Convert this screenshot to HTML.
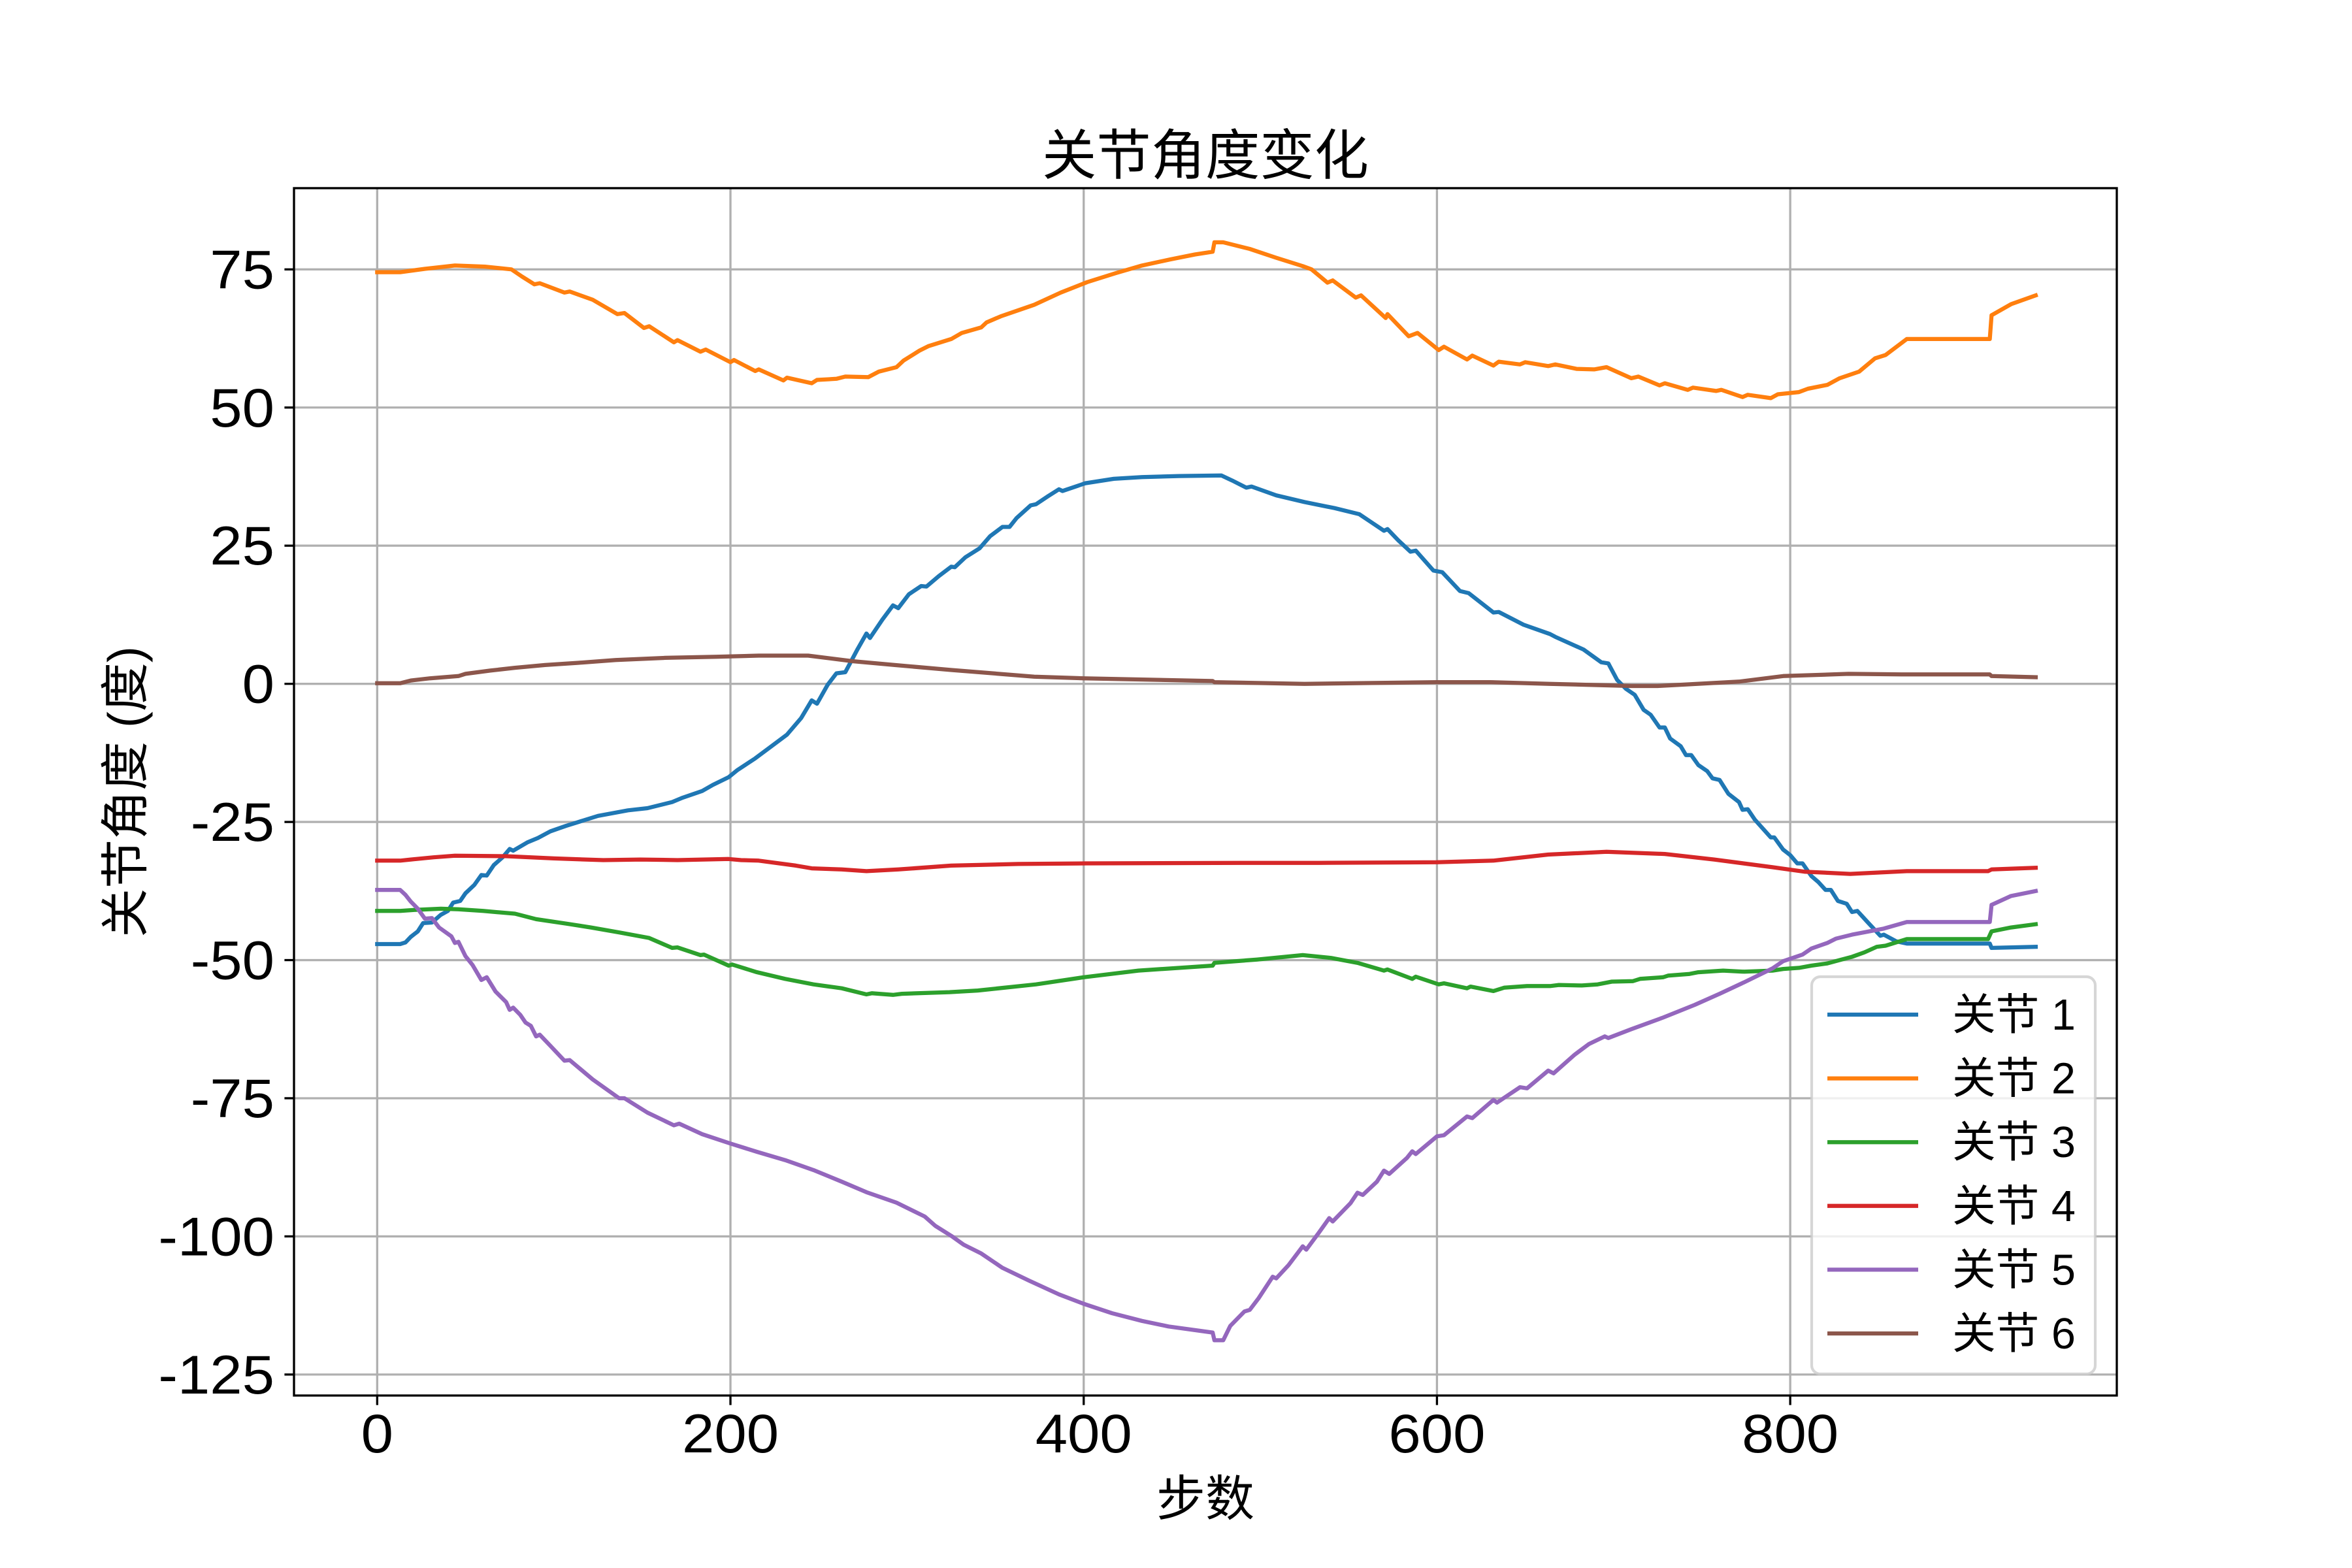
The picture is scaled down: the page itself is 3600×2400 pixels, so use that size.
<!DOCTYPE html>
<html lang="zh">
<head>
<meta charset="utf-8">
<title>关节角度变化</title>
<style>
html,body{margin:0;padding:0;background:#fff;}
svg{display:block;}
text{font-family:"Liberation Sans","WenQuanYi Zen Hei","Noto Sans CJK SC",sans-serif;fill:#000;}
</style>
</head>
<body>
<svg id="chart" xmlns="http://www.w3.org/2000/svg" width="3600" height="2400" viewBox="0 0 3600 2400">
  <rect x="0" y="0" width="3600" height="2400" fill="#fff"/>
  <g id="grid"></g>
  <g id="series"></g>
  <rect x="450" y="288" width="2790" height="1848" fill="none" stroke="#000" stroke-width="3.33"/>
  <g id="ticks"></g>
  <text x="1845" y="267" font-size="83.33" text-anchor="middle">关节角度变化</text>
  <text x="1845" y="2320" font-size="75" text-anchor="middle">步数</text>
  <text x="0" y="0" font-size="75" text-anchor="middle" transform="translate(218 1212) rotate(-90)">关节角度 (度)</text>
  <g id="legend">
    <rect x="2773" y="1495" width="434" height="608" rx="13.3" ry="13.3" fill="#fff" fill-opacity="0.8" stroke="#ccc" stroke-opacity="0.8" stroke-width="4.17"/>
  </g>
</svg>
<script>
var stepsJ1=[0,13,16,19,23,26,31,36,40,43,47,50,55,59,62,66,71,75,77,85,91,98,107,114,125,142,153,167,173,184,190,199,204,214,232,240,246,249,255,260,265,272,277,279,286,292,295,301,308,311,318,325,327,333,341,347,354,358,362,370,373,380,386,388,401,417,433,454,478,484,492,495,509,525,542,556,563,570,572,578,585,588,598,603,613,618,632,635,649,664,667,683,693,697,702,707,712,717,721,726,729,732,738,741,744,748,753,756,760,765,771,773,776,780,789,791,796,800,804,807,812,816,820,823,827,832,835,838,844,851,853,860,866,913,914,939];
var valuesJ1=[-47.1,-47.1,-46.8,-45.8,-44.8,-43.3,-43.2,-41.8,-41.1,-39.6,-39.3,-37.9,-36.4,-34.6,-34.7,-32.8,-31.4,-29.9,-30.2,-28.7,-27.9,-26.7,-25.7,-25,-23.9,-22.9,-22.5,-21.4,-20.6,-19.4,-18.3,-16.9,-15.6,-13.5,-9.2,-6.2,-3,-3.6,-0.2,1.9,2.1,6.3,9.1,8.3,11.6,14.2,13.7,16.2,17.7,17.6,19.5,21.2,21.1,22.9,24.5,26.7,28.4,28.4,30,32.3,32.5,34,35.2,34.9,36.3,37.1,37.4,37.6,37.7,36.8,35.5,35.7,34.1,32.9,31.8,30.7,29.2,27.7,28,26,23.9,24.1,20.5,20.2,16.8,16.4,12.9,13,10.7,9,8.5,6.2,3.9,3.7,0.7,-0.9,-2,-4.7,-5.6,-7.9,-7.9,-9.9,-11.3,-12.9,-12.9,-14.7,-15.8,-17.1,-17.4,-19.9,-21.4,-22.8,-22.7,-24.6,-27.8,-27.8,-30,-31,-32.5,-32.5,-34.8,-35.9,-37.3,-37.3,-39.3,-39.8,-41.3,-41.1,-43.2,-45.6,-45.4,-46.6,-47,-47,-47.8,-47.6];

var stepsJ2=[0,13,27,44,61,76,82,89,92,106,109,122,136,140,151,154,168,170,183,186,200,202,214,216,230,232,246,249,260,265,278,284,294,298,307,312,325,331,342,345,353,372,387,402,418,433,449,463,473,474,479,494,509,524,529,538,541,554,557,571,572,584,589,601,604,617,620,632,635,647,650,663,667,679,689,696,710,714,726,729,742,745,758,761,773,776,789,793,805,810,821,828,839,848,854,866,913,914,925,939];
var valuesJ2=[74.5,74.5,75.1,75.7,75.5,75,73.7,72.3,72.5,70.8,71,69.5,66.9,67.1,64.4,64.7,61.8,62.2,60.1,60.5,58.2,58.6,56.6,56.9,54.9,55.4,54.4,55,55.2,55.6,55.5,56.5,57.3,58.5,60.3,61.1,62.4,63.5,64.5,65.4,66.5,68.6,70.8,72.7,74.3,75.7,76.8,77.7,78.2,79.9,79.9,78.7,77.1,75.6,75,72.6,73,69.9,70.3,66.2,66.9,62.9,63.5,60.4,61,58.7,59.4,57.6,58.3,57.8,58.2,57.5,57.8,57,56.9,57.3,55.3,55.6,54,54.4,53.2,53.6,53,53.2,51.9,52.3,51.7,52.4,52.8,53.4,54.1,55.3,56.5,58.9,59.5,62.4,62.4,66.7,68.7,70.3];

var stepsJ3=[0,13,22,36,46,60,78,90,107,121,137,154,167,170,183,185,199,201,215,231,247,263,277,280,292,297,324,340,373,400,431,473,474,498,524,540,555,570,572,586,588,601,604,617,619,632,638,651,664,669,682,691,699,711,715,728,731,743,748,762,774,790,796,805,812,821,828,835,842,849,854,866,912,914,925,939];
var valuesJ3=[-41.1,-41.1,-40.9,-40.7,-40.8,-41.1,-41.6,-42.6,-43.4,-44.1,-45,-46,-47.8,-47.7,-49.1,-49,-51,-50.8,-52.2,-53.4,-54.4,-55.1,-56.2,-56,-56.3,-56.1,-55.8,-55.5,-54.4,-53.1,-51.9,-51,-50.5,-49.9,-49.1,-49.6,-50.5,-51.9,-51.7,-53.4,-53,-54.4,-54.2,-55.1,-54.8,-55.6,-55,-54.7,-54.7,-54.5,-54.6,-54.4,-53.9,-53.8,-53.4,-53.1,-52.8,-52.5,-52.2,-51.9,-52.1,-51.9,-51.6,-51.4,-51,-50.6,-50,-49.4,-48.6,-47.6,-47.4,-46.2,-46.2,-44.8,-44.1,-43.5];

var stepsJ4=[0,13,19,32,44,73,100,128,149,170,199,206,216,237,246,263,277,295,325,363,401,489,533,600,632,663,696,729,757,790,808,834,866,912,914,939];
var valuesJ4=[-32,-32,-31.8,-31.4,-31.1,-31.2,-31.6,-31.9,-31.8,-31.9,-31.7,-31.9,-32,-32.9,-33.4,-33.6,-33.9,-33.6,-32.9,-32.6,-32.5,-32.4,-32.4,-32.3,-32,-30.9,-30.4,-30.8,-31.8,-33.2,-34,-34.4,-33.9,-33.9,-33.6,-33.3];

var stepsJ5=[0,13,16,19,23,27,31,35,42,44,46,50,54,59,62,67,73,75,77,81,84,87,90,92,98,106,109,122,137,140,153,168,171,184,200,215,231,247,263,277,294,310,316,325,332,342,354,369,386,400,416,433,448,473,474,479,483,491,494,499,507,509,516,524,526,533,539,541,551,555,558,566,570,573,583,586,588,600,604,617,620,632,634,647,651,663,666,678,686,695,697,710,728,746,760,774,790,796,807,812,821,826,835,853,866,913,914,925,939];
var valuesJ5=[-37.3,-37.3,-38.2,-39.4,-40.7,-42.5,-42.4,-44.1,-45.7,-46.9,-46.7,-49.3,-50.9,-53.6,-53.1,-55.7,-57.6,-59,-58.6,-59.9,-61.3,-61.9,-63.8,-63.5,-65.5,-68.2,-68.1,-71.6,-75,-75,-77.6,-79.9,-79.6,-81.5,-83.2,-84.7,-86.2,-88,-90.1,-92,-93.9,-96.4,-98.1,-99.9,-101.5,-103.1,-105.7,-108,-110.5,-112.2,-113.9,-115.3,-116.3,-117.4,-118.8,-118.8,-116.2,-113.6,-113.3,-111.2,-107.3,-107.6,-105.2,-101.8,-102.4,-99.4,-96.7,-97.3,-94,-92.1,-92.5,-90.1,-88.1,-88.7,-85.8,-84.6,-85.1,-81.9,-81.7,-78.3,-78.6,-75.3,-75.8,-73,-73.2,-70,-70.5,-67.1,-65.2,-63.8,-64.1,-62.5,-60.4,-58.1,-56.1,-54,-51.5,-50.2,-49,-47.9,-46.9,-46.1,-45.4,-44.3,-43.1,-43.1,-40,-38.4,-37.5];

var stepsJ6=[0,13,19,30,46,50,64,78,95,114,135,163,192,216,244,269,293,325,372,400,473,474,525,600,630,664,710,725,771,796,833,863,913,914,939];
var valuesJ6=[0.1,0.1,0.6,1,1.4,1.8,2.4,2.9,3.4,3.8,4.3,4.7,4.9,5.1,5.1,4.1,3.4,2.5,1.3,1,0.5,0.3,0,0.3,0.3,0,-0.4,-0.4,0.4,1.4,1.8,1.7,1.7,1.4,1.2];

var xTickValues=[0,200,400,600,800];
var yTickValues=[75,50,25,0,-25,-50,-75,-100,-125];
var legendLabels=["关节 1","关节 2","关节 3","关节 4","关节 5","关节 6"];

var xMin=-47.1,xMax=984.9,yMin=-128.8,yMax=89.7;
var plotLeft=450,plotRight=3240,plotTop=288,plotBottom=2136;
var seriesColors=["#1f77b4","#ff7f0e","#2ca02c","#d62728","#9467bd","#8c564b"];
var seriesSteps=[stepsJ1,stepsJ2,stepsJ3,stepsJ4,stepsJ5,stepsJ6];
var seriesValues=[valuesJ1,valuesJ2,valuesJ3,valuesJ4,valuesJ5,valuesJ6];

function xScale(v){return plotLeft+(v-xMin)/(xMax-xMin)*(plotRight-plotLeft);}
function yScale(v){return plotBottom-(v-yMin)/(yMax-yMin)*(plotBottom-plotTop);}
var NS="http://www.w3.org/2000/svg";
function make(tag,attrs,parent){
  var el=document.createElementNS(NS,tag);
  for(var k in attrs){el.setAttribute(k,attrs[k]);}
  parent.appendChild(el);
  return el;
}
var gridG=document.getElementById('grid');
var ticksG=document.getElementById('ticks');
var seriesG=document.getElementById('series');
var legendG=document.getElementById('legend');

xTickValues.forEach(function(v){
  var x=xScale(v);
  var g=make('line',{x1:x,x2:x,y1:plotTop,y2:plotBottom,stroke:'#b0b0b0','stroke-width':3.33},gridG);
  
  
  var t=make('line',{x1:x,x2:x,y1:plotBottom,y2:plotBottom+14.6,stroke:'#000','stroke-width':3.33},ticksG);
  
  
  var l=make('text',{x:0,y:0,'font-size':83.33,'text-anchor':'middle',transform:'translate('+x+' '+(plotBottom+87)+') scale(1.065 1)'},ticksG);
  
  
  l.textContent=String(v);
});
yTickValues.forEach(function(v){
  var y=yScale(v);
  var g=make('line',{x1:plotLeft,x2:plotRight,y1:y,y2:y,stroke:'#b0b0b0','stroke-width':3.33},gridG);
  
  
  var t=make('line',{x1:plotLeft-14.6,x2:plotLeft,y1:y,y2:y,stroke:'#000','stroke-width':3.33},ticksG);
  
  
  var l=make('text',{x:0,y:0,'font-size':83.33,'text-anchor':'end',transform:'translate('+(plotLeft-30)+' '+(y+29)+') scale(1.065 1)'},ticksG);
  
  
  l.textContent=String(v);
});
seriesValues.forEach(function(vals,i){
  var steps=seriesSteps[i];
  var d=vals.map(function(v,j){return (j?'L':'M')+xScale(steps[j]).toFixed(1)+' '+yScale(v).toFixed(1);}).join('');
  var p=make('path',{d:d,fill:'none',stroke:seriesColors[i],'stroke-width':6.25,'stroke-linejoin':'round','stroke-linecap':'square'},seriesG);
  
  
});
legendLabels.forEach(function(label,i){
  var y=1553+i*97.6;
  var h=make('line',{x1:2797,x2:2936,y1:y,y2:y,stroke:seriesColors[i],'stroke-width':6.25},legendG);
  
  
  var t=make('text',{x:2988,y:y+23,'font-size':66.67},legendG);
  
  
  t.textContent=label;
});
</script>
</body>
</html>
